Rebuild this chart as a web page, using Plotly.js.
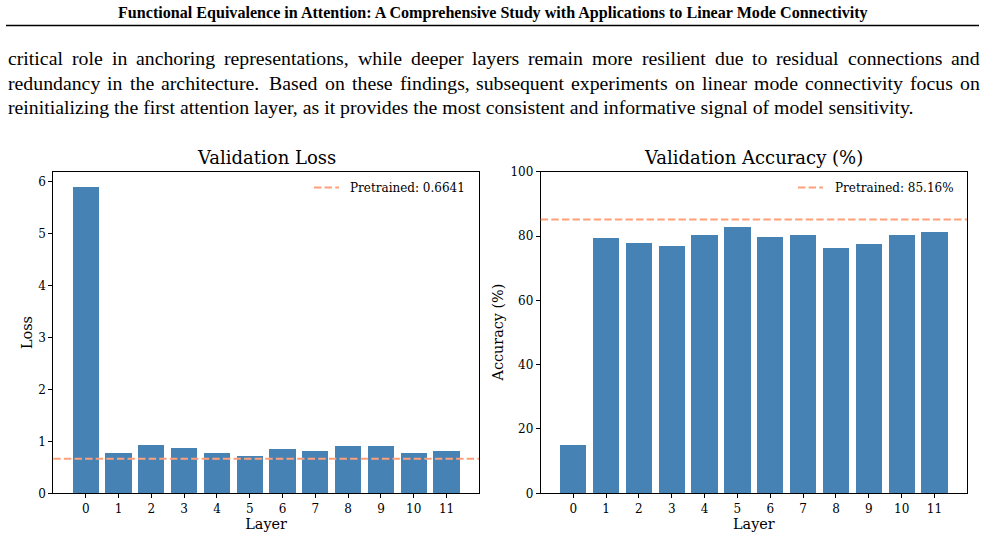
<!DOCTYPE html>
<html>
<head>
<meta charset="utf-8">
<script src="https://cdn.plot.ly/plotly-3.0.1.min.js"></script>
<style>
  html, body { margin: 0; padding: 0; background: #ffffff; }
  #page { width: 985px; height: 538px; }
</style>
</head>
<body>
<div id="page"></div>
<script>
// ---- data ----
const layers = [0, 1, 2, 3, 4, 5, 6, 7, 8, 9, 10, 11];
const layerLabels = ['0', '1', '2', '3', '4', '5', '6', '7', '8', '9', '10', '11'];
const lossValues = [5.90, 0.77, 0.93, 0.87, 0.77, 0.72, 0.85, 0.81, 0.91, 0.91, 0.77, 0.81];
const accuracyValues = [15.0, 79.4, 77.8, 76.9, 80.3, 82.8, 79.7, 80.3, 76.3, 77.5, 80.3, 81.3];
const pretrainedLoss = 0.6641;
const pretrainedAccuracy = 85.16;

// ---- page text ----
const headerText = 'Functional Equivalence in Attention: A Comprehensive Study with Applications to Linear Mode Connectivity';
const paragraphLines = [
  'critical role in anchoring representations, while deeper layers remain more resilient due to residual connections and',
  'redundancy in the architecture.  Based on these findings, subsequent experiments on linear mode connectivity focus on',
  'reinitializing the first attention layer, as it provides the most consistent and informative signal of model sensitivity.'
];

// ---- geometry helpers (pixel -> paper) ----
const W = 985, H = 538;
const px = x => x / W;
const py = y => 1 - y / H;

const BAR = '#4682B4';
const REF = '#FFA07A';
const CHART_FONT = 'DejaVu Serif';
const BODY_FONT = 'Liberation Serif';
const BODY_SIZE = 19.8;

const annotations = [];
const shapes = [];

// running header
annotations.push({
  xref: 'paper', yref: 'paper', x: px(492.5), y: py(13),
  xanchor: 'center', yanchor: 'middle', showarrow: false, borderpad: 0,
  text: '<b>' + headerText + '</b>',
  font: { family: BODY_FONT, size: 16.1, color: '#000' }
});
shapes.push({
  type: 'line', xref: 'paper', yref: 'paper',
  x0: px(6), x1: px(979), y0: py(25.5), y1: py(25.5),
  line: { color: '#000', width: 1.6 }
});

// justified body text: words spread between the margins
const ctx = document.createElement('canvas').getContext('2d');
ctx.font = BODY_SIZE + 'px "' + BODY_FONT + '"';
const lineY = [58, 83, 107];
const left = 7, right = 979;
paragraphLines.forEach((line, li) => {
  const justify = li < paragraphLines.length - 1;
  if (!justify) {
    annotations.push({
      xref: 'paper', yref: 'paper', x: px(left), y: py(lineY[li]),
      xanchor: 'left', yanchor: 'middle', showarrow: false, borderpad: 0,
      text: line, font: { family: BODY_FONT, size: BODY_SIZE, color: '#000' }
    });
    return;
  }
  // sentence ends get a wider gap, as in typeset text
  const words = line.split(/ +/);
  const gapsAfter = [];
  line.replace(/ +/g, m => { gapsAfter.push(m.length > 1 ? 1.4 : 1); return m; });
  const widths = words.map(w => ctx.measureText(w).width);
  const total = widths.reduce((a, b) => a + b, 0);
  const weight = gapsAfter.reduce((a, b) => a + b, 0);
  const unit = (right - left - total) / weight;
  let x = left;
  words.forEach((w, i) => {
    annotations.push({
      xref: 'paper', yref: 'paper', x: px(x), y: py(lineY[li]),
      xanchor: 'left', yanchor: 'middle', showarrow: false, borderpad: 0,
      text: w, font: { family: BODY_FONT, size: BODY_SIZE, color: '#000' }
    });
    x += widths[i] + (i < gapsAfter.length ? gapsAfter[i] * unit : 0);
  });
});

// ---- panels ----
const leftDom = [px(53.3), px(479)];
const rightDom = [px(540.7), px(967)];
const yDom = [py(493.3), py(171.7)];

function xAxis(domain, anchor) {
  return {
    domain: domain, anchor: anchor, range: [-0.99, 11.99],
    tickmode: 'array', tickvals: layers, ticktext: layerLabels,
    ticks: 'outside', ticklen: 4, tickwidth: 1, tickcolor: '#000',
    ticklabelstandoff: 0,
    showline: true, mirror: true, linecolor: '#000', linewidth: 1,
    showgrid: false, zeroline: false,
    tickfont: { family: CHART_FONT, size: 12, color: '#000' },
    title: { text: 'Layer', standoff: 1, font: { family: CHART_FONT, size: 14.4, color: '#000' } }
  };
}
function yAxis(domain, anchor, range, dtick) {
  return {
    domain: domain, anchor: anchor, range: range, dtick: dtick,
    ticks: 'outside', ticklen: 4, tickwidth: 1, tickcolor: '#000',
    ticklabelstandoff: 0,
    showline: true, mirror: true, linecolor: '#000', linewidth: 1,
    showgrid: false, zeroline: false,
    tickfont: { family: CHART_FONT, size: 12, color: '#000' }
  };
}

const lossMax = Math.max(...lossValues) * 1.05;

const traces = [
  { type: 'bar', x: layers, y: lossValues, width: 0.8, xaxis: 'x', yaxis: 'y',
    marker: { color: BAR, line: { width: 0 } }, showlegend: false, hoverinfo: 'x+y' },
  { type: 'bar', x: layers, y: accuracyValues, width: 0.8, xaxis: 'x2', yaxis: 'y2',
    marker: { color: BAR, line: { width: 0 } }, showlegend: false, hoverinfo: 'x+y' }
];

// pretrained reference lines across each panel
shapes.push({
  type: 'line', xref: 'x domain', yref: 'y', x0: 0, x1: 1, y0: pretrainedLoss, y1: pretrainedLoss,
  line: { color: REF, width: 2, dash: '7.4px,3.2px' }
});
shapes.push({
  type: 'line', xref: 'x2 domain', yref: 'y2', x0: 0, x1: 1, y0: pretrainedAccuracy, y1: pretrainedAccuracy,
  line: { color: REF, width: 2, dash: '7.4px,3.2px' }
});

// legend entries (upper right of each panel)
function legendEntry(x0, x1, tx, y, label) {
  shapes.push({
    type: 'line', xref: 'paper', yref: 'paper', x0: px(x0), x1: px(x1), y0: py(y), y1: py(y),
    line: { color: REF, width: 2, dash: '7.4px,3.2px' }
  });
  annotations.push({
    xref: 'paper', yref: 'paper', x: px(tx), y: py(y),
    xanchor: 'left', yanchor: 'middle', showarrow: false, borderpad: 0,
    text: label, font: { family: CHART_FONT, size: 12, color: '#000' }
  });
}
legendEntry(314, 339, 349, 187.5, 'Pretrained: ' + pretrainedLoss.toFixed(4));
legendEntry(798, 823, 833.5, 187.5, 'Pretrained: ' + pretrainedAccuracy.toFixed(2) + '%');

// panel titles
[['Validation Loss', 266.2], ['Validation Accuracy (%)', 753.9]].forEach(([t, cx]) => {
  annotations.push({
    xref: 'paper', yref: 'paper', x: px(cx), y: py(158),
    xanchor: 'center', yanchor: 'middle', showarrow: false, borderpad: 0,
    text: t, font: { family: CHART_FONT, size: 18, color: '#000' }
  });
});

// y-axis labels
[['Loss', 26.5], ['Accuracy (%)', 497]].forEach(([t, cx]) => {
  annotations.push({
    xref: 'paper', yref: 'paper', x: px(cx), y: py(332.5),
    xanchor: 'center', yanchor: 'middle', showarrow: false, borderpad: 0, textangle: -90,
    text: t, font: { family: CHART_FONT, size: 14.4, color: '#000' }
  });
});

const layout = {
  width: W, height: H,
  margin: { l: 0, r: 0, t: 0, b: 0 },
  paper_bgcolor: '#fff', plot_bgcolor: '#fff',
  bargap: 0,
  showlegend: false,
  xaxis: xAxis(leftDom, 'y'),
  yaxis: yAxis(yDom, 'x', [0, lossMax], 1),
  xaxis2: xAxis(rightDom, 'y2'),
  yaxis2: yAxis(yDom, 'x2', [0, 100], 20),
  shapes: shapes,
  annotations: annotations
};

Plotly.newPlot('page', traces, layout, { staticPlot: true, displayModeBar: false });
</script>
</body>
</html>
